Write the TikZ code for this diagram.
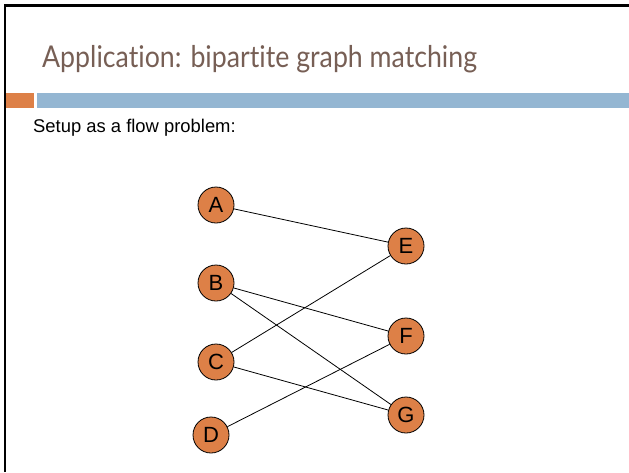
\documentclass[tikz,border=0pt]{standalone}
\usepackage{fontspec}
\setmainfont{Liberation Sans}
\newfontfamily\titlefont[FakeStretch=0.89, Ligatures=NoCommon]{Lato}
\usepackage{xcolor}
\usetikzlibrary{positioning}

\definecolor{slidebrown}{HTML}{775F55}
\definecolor{slideorange}{HTML}{DD8047}
\definecolor{slideblue}{HTML}{94B6D2}

\begin{document}
\begin{tikzpicture}[
  x=1pt, y=-1pt,
  vert/.style={draw, circle, fill=slideorange, line width=0.8pt,
               minimum size=36pt, inner sep=0pt, font=\fontsize{22}{22}\selectfont},
  match/.style={line width=0.8pt}
]
\useasboundingbox (0,0) rectangle (629,472);
% slide frame and header
\draw[line width=2.6pt] (4.8,472) -- (4.8,5.3) -- (629,5.3);
\fill[slideorange] (6,93) rectangle (34,108);
\fill[slideblue] (37,93) rectangle (629,108);
\node[anchor=base west, inner sep=0pt, text=slidebrown,
      font=\titlefont\fontsize{30}{30}\selectfont] (title) at (42,67)
  {Application: bipartite graph matching};
\node[anchor=base west, inner sep=0pt, font=\fontsize{18.4}{18.4}\selectfont]
  (setup) at (33,132) {Setup as a flow problem:};

% left side
\node[vert] (A) at (216,205) {A};
\node[vert] (B) at (216,283) {B};
\node[vert] (C) at (216,362) {C};
\node[vert] (D) at (211,435) {D};
% right side
\node[vert] (E) at (406,246) {E};
\node[vert] (F) at (406,336) {F};
\node[vert] (G) at (406,415) {G};

\draw[match] (A) -- (E);
\draw[match] (B) -- (F);
\draw[match] (B) -- (G);
\draw[match] (C) -- (E);
\draw[match] (C) -- (G);
\draw[match] (D) -- (F);
\end{tikzpicture}
\end{document}
